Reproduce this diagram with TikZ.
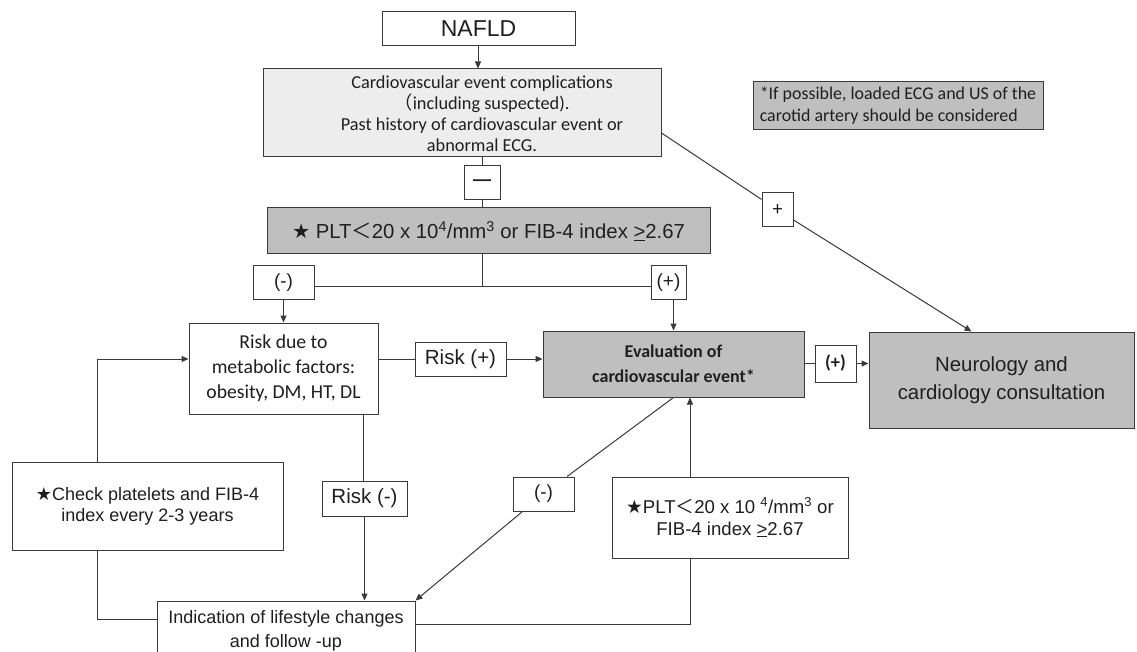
\documentclass[tikz,border=0pt]{standalone}
\usepackage{fontspec}
\setmainfont{Liberation Sans}
\newfontfamily\carl{Carlito}
\newfontfamily\djv{DejaVu Sans}
\newfontfamily\cjk{Noto Sans CJK SC}
\usetikzlibrary{arrows.meta}
\definecolor{lgray}{HTML}{EDEDED}
\definecolor{dgray}{HTML}{BFBFBF}
\definecolor{edge}{HTML}{3A3A3A}
\begin{document}
\begin{tikzpicture}[x=1pt,y=-1pt,
 box/.style={draw=edge,line width=1pt,align=center,inner sep=0pt,text=black!88},
 txt/.style={align=center,inner sep=0pt,text=black!88},
 ln/.style={draw=edge,line width=1pt},
 arr/.style={ln,-{Triangle[length=7pt,width=6pt]}}]
\useasboundingbox (0,0) rectangle (1137,652);
\fill[white] (0,0) rectangle (1137,652);

\node[box, minimum width=193pt, minimum height=34pt, font=\fontsize{23}{26}\selectfont] (nafld) at (478.5,29) {NAFLD};
\node[box, fill=lgray, minimum width=398pt, minimum height=88pt] (cardio) at (462,113) {};
\node[txt, font=\carl\fontsize{18.3}{21}\selectfont] (cardiotxt) at (482,113.5) {Cardiovascular event complications\\{\cjk （}including suspected).\\Past history of cardiovascular event or\\abnormal ECG.};
\node[box, minimum width=36pt, minimum height=34pt, font=\bfseries\fontsize{18}{20}\selectfont] (dash) at (482,183) {—};
\node[box, fill=dgray, minimum width=443pt, minimum height=46pt, font=\fontsize{20.3}{24}\selectfont] (plt) at (488.5,231) {{\djv★} PLT{\cjk＜}20 x 10\textsuperscript{4}/mm\textsuperscript{3} or FIB-4 index \underline{>}2.67};
\node[box, minimum width=61pt, minimum height=33pt, font=\fontsize{19}{22}\selectfont] (neg1) at (283.5,282.5) {(-)};
\node[box, minimum width=35pt, minimum height=33pt, font=\fontsize{19}{22}\selectfont] (pos1) at (668.5,282.5) {(+)};
\node[box, minimum width=189pt, minimum height=91pt, font=\carl\fontsize{19.7}{25}\selectfont] (risk) at (283.5,368.5) {Risk due to\\metabolic factors:\\obesity, DM, HT, DL};
\node[box, minimum width=91pt, minimum height=34pt, font=\fontsize{20.5}{24}\selectfont] (riskpos) at (460.5,359) {Risk (+)};
\node[box, fill=dgray, minimum width=261pt, minimum height=66pt, font=\carl\bfseries\fontsize{18}{25}\selectfont] (eval) at (673.5,364) {Evaluation of\\cardiovascular event*};
\node[box, minimum width=41pt, minimum height=37pt, font=\carl\bfseries\fontsize{18.5}{22}\selectfont] (pos2) at (835.5,363.5) {(+)};
\node[box, fill=dgray, minimum width=265pt, minimum height=96pt, font=\fontsize{20.4}{28}\selectfont] (neuro) at (1001.5,380) {Neurology and\\cardiology consultation};
\node[box, minimum width=31pt, minimum height=34pt, font=\carl\fontsize{20}{24}\selectfont] (plus) at (777.5,210) {+};
\node[box, fill=dgray, minimum width=290pt, minimum height=48pt, align=left, font=\carl\fontsize{17.9}{22}\selectfont] (note) at (898,106) {*If possible, loaded ECG and US of the\\carotid artery should be considered};
\node[box, minimum width=271pt, minimum height=88pt, font=\fontsize{18}{21}\selectfont] (check) at (147.5,506) {{\djv★}Check platelets and FIB-4\\index every 2-3 years};
\node[box, minimum width=85pt, minimum height=35pt, font=\fontsize{20.5}{24}\selectfont] (riskneg) at (364.5,498.5) {Risk (-)};
\node[box, minimum width=61pt, minimum height=34pt, font=\fontsize{19}{22}\selectfont] (neg2) at (543.5,494) {(-)};
\node[box, minimum width=236pt, minimum height=81pt, font=\fontsize{18.6}{22}\selectfont] (plt2) at (730,517.5) {{\djv★}PLT{\cjk＜}20 x 10 \textsuperscript{4}/mm\textsuperscript{3} or\\FIB-4 index \underline{>}2.67};
\node[box, minimum width=258pt, minimum height=60pt, font=\fontsize{18}{24}\selectfont] (life) at (286,631) {Indication of lifestyle changes\\and follow -up};

\coordinate (J) at (482,286);
\coordinate (cl) at (97,359);
\coordinate (cb) at (97,619);
\coordinate (lc) at (690,624);
\coordinate (rl) at (363,0);

\draw[arr] (nafld.south -| 478,0) -- (478,0 |- cardio.north);
\draw[ln] (dash.north) -- (dash.north |- cardio.south);
\draw[ln] (dash.south) -- (dash.south |- plt.north);
\draw[ln] (J |- plt.south) -- (J);
\draw[ln] (neg1.east |- J) -- (pos1.west |- J);
\draw[arr] (neg1.south) -- (neg1.south |- risk.north);
\draw[arr] (pos1.south -| eval.north) -- (eval.north);
\draw[ln] (risk.east |- riskpos.west) -- (riskpos.west);
\draw[arr] (riskpos.east) -- (riskpos.east -| eval.west);
\draw[ln] (eval.east |- pos2.west) -- (pos2.west);
\draw[arr] (pos2.east) -- (pos2.east -| neuro.west);
\draw[ln] ([yshift=-20pt]cardio.east) -- (plus);
\draw[arr] (plus) -- ([xshift=103pt]neuro.north west);
\draw[ln] (rl |- risk.south) -- (rl |- riskneg.north);
\draw[arr] (riskneg.south) -- (riskneg.south |- life.north);
\draw[ln] (eval.south) -- (neg2);
\draw[arr] (neg2) -- (life.north east);
\draw[arr] (plt2.north -| lc) -- (lc |- eval.south);
\draw[ln] (plt2.south -| lc) -- (lc) -- (lc -| life.east);
\draw[arr] (check.north -| cl) -- (cl) -- (cl -| risk.west);
\draw[ln] (check.south -| cb) -- (cb) -- (cb -| life.west);
\end{tikzpicture}
\end{document}
